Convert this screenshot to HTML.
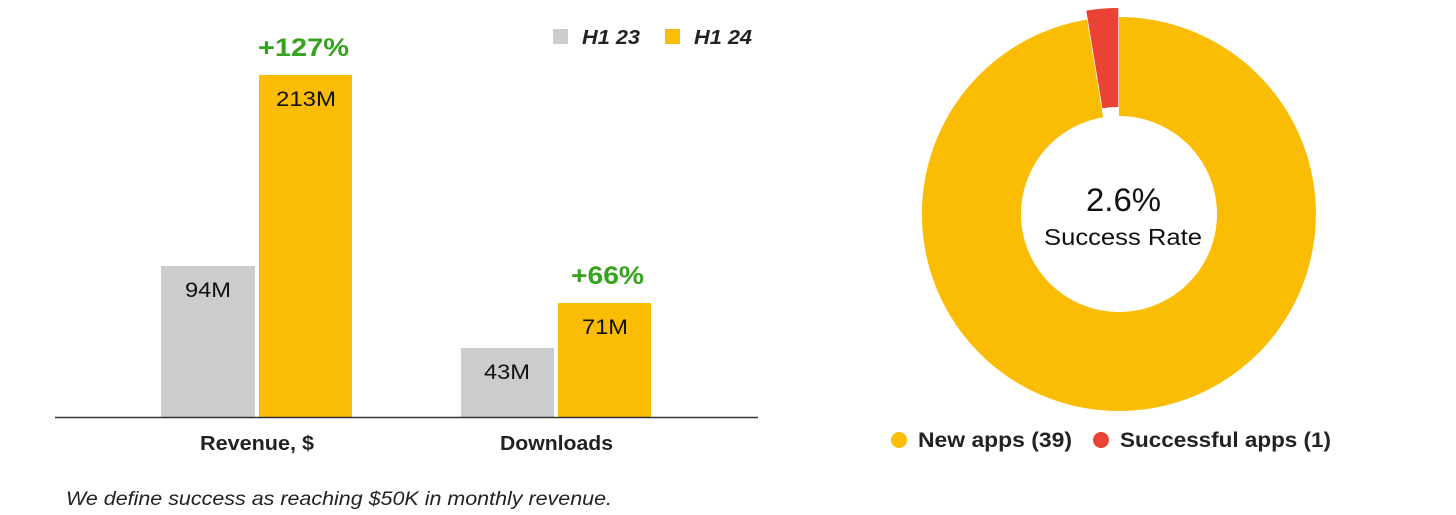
<!DOCTYPE html>
<html><head><meta charset="utf-8"><style>
html,body{margin:0;padding:0;background:#fff;}
svg{display:block;font-family:"Liberation Sans",sans-serif;}
text{}
</style></head><body>
<svg width="1456" height="515" viewBox="0 0 1456 515" xmlns="http://www.w3.org/2000/svg">
<rect width="1456" height="515" fill="#fff"/>
<rect x="553" y="29" width="15" height="15" fill="#cccccc"/>
<text x="582" y="44" font-size="20" font-weight="bold" font-style="italic" fill="#222" textLength="58" lengthAdjust="spacingAndGlyphs">H1 23</text>
<rect x="665" y="29" width="15" height="15" fill="#fbbc04"/>
<text x="694" y="44" font-size="20" font-weight="bold" font-style="italic" fill="#222" textLength="58" lengthAdjust="spacingAndGlyphs">H1 24</text>
<rect x="161" y="266" width="94" height="151" fill="#cccccc"/>
<rect x="259" y="75" width="93" height="342" fill="#fbbc04"/>
<rect x="461" y="348" width="93" height="69" fill="#cccccc"/>
<rect x="558" y="303" width="93" height="114" fill="#fbbc04"/>
<line x1="55" y1="417.5" x2="758" y2="417.5" stroke="#333" stroke-width="1.5"/>
<g font-size="21" fill="#111" lengthAdjust="spacingAndGlyphs">
<text x="185" y="297" textLength="46" lengthAdjust="spacingAndGlyphs">94M</text>
<text x="276" y="106" textLength="60" lengthAdjust="spacingAndGlyphs">213M</text>
<text x="484" y="379" textLength="46" lengthAdjust="spacingAndGlyphs">43M</text>
<text x="582" y="334" textLength="46" lengthAdjust="spacingAndGlyphs">71M</text>
</g>
<g font-size="25" font-weight="bold" fill="#34a31d">
<text x="258" y="56" textLength="91" lengthAdjust="spacingAndGlyphs">+127%</text>
<text x="571" y="284" textLength="73" lengthAdjust="spacingAndGlyphs">+66%</text>
</g>
<g font-size="20" font-weight="bold" fill="#222">
<text x="200" y="450" textLength="114" lengthAdjust="spacingAndGlyphs">Revenue, $</text>
<text x="500" y="450" textLength="113" lengthAdjust="spacingAndGlyphs">Downloads</text>
</g>
<text x="66" y="505" font-size="19" font-style="italic" fill="#222" textLength="546" lengthAdjust="spacingAndGlyphs">We define success as reaching $50K in monthly revenue.</text>
<path d="M1119,17 A197,197 0 1 1 1087,19.6 L1103.1,117.3 A98,98 0 1 0 1119,116 Z" fill="#fbbc04"/>
<path d="M1118.3,8 A197,197 0 0 0 1086.3,10.6 L1102.4,108.2 A98,98 0 0 1 1118.3,107 Z" fill="#ea4335"/>
<text x="1086" y="211" font-size="32" fill="#111" textLength="75" lengthAdjust="spacingAndGlyphs">2.6%</text>
<text x="1044" y="245" font-size="23" fill="#111" textLength="158" lengthAdjust="spacingAndGlyphs">Success Rate</text>
<circle cx="899" cy="440" r="8" fill="#fbbc04"/>
<text x="918" y="447" font-size="21" font-weight="bold" fill="#222" textLength="154" lengthAdjust="spacingAndGlyphs">New apps (39)</text>
<circle cx="1101" cy="440" r="8" fill="#ea4335"/>
<text x="1120" y="447" font-size="21" font-weight="bold" fill="#222" textLength="211" lengthAdjust="spacingAndGlyphs">Successful apps (1)</text>
</svg>
</body></html>
